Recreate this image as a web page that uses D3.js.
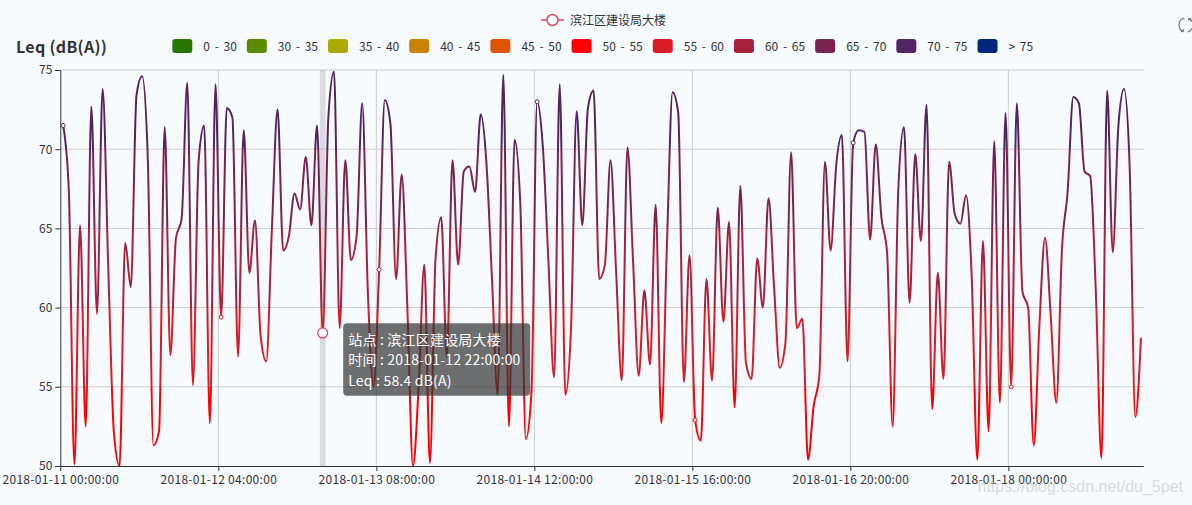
<!DOCTYPE html>
<html>
<head>
<meta charset="utf-8">
<script src="https://cdnjs.cloudflare.com/ajax/libs/d3/7.8.5/d3.min.js"></script>
<style>
  html, body { margin: 0; padding: 0; background: #f7faff; }
  svg { display: block; font-family: "Microsoft YaHei", "Noto Sans CJK SC", "Noto Sans", sans-serif; }
</style>
</head>
<body>
<svg id="chart" width="1192" height="505"></svg>
<script>
// hourly Leq readings, 2018-01-11 00:00 .. 2018-01-18 23:00
var stationName = "滨江区建设局大楼";
var startTime = "2018-01-11 00:00:00";
var leqValues = [
  71.5, 67.5, 50.1, 65.2, 52.5, 72.7, 59.6, 73.8, 62.5, 52.1,
  50.0, 64.1, 61.3, 73.4, 74.6, 69.5, 51.3, 52.2, 71.4, 57.0,
  64.4, 65.6, 74.2, 55.1, 69.2, 71.5, 52.7, 74.1, 59.4, 72.6,
  72.0, 56.9, 71.2, 62.2, 65.5, 58.2, 56.6, 65.0, 72.5, 63.6,
  64.5, 67.2, 66.2, 69.5, 65.2, 71.5, 58.4, 72.0, 74.9, 58.7,
  69.3, 63.0, 64.5, 72.9, 61.0, 55.0, 62.4, 73.1, 71.6, 61.8,
  68.4, 60.0, 50.0, 55.0, 62.7, 50.2, 63.1, 65.7, 56.9, 69.3,
  62.7, 68.6, 68.9, 67.3, 72.2, 69.2, 61.8, 54.5, 74.7, 52.5,
  70.6, 66.7, 51.7, 54.7, 73.0, 70.2, 62.9, 55.6, 74.1, 54.5,
  58.7, 72.4, 65.2, 72.6, 73.7, 61.8, 62.7, 69.3, 62.2, 55.4,
  70.1, 62.9, 55.7, 61.1, 56.4, 66.5, 52.7, 64.0, 73.6, 72.3,
  55.3, 63.3, 52.9, 51.6, 61.8, 55.4, 66.3, 59.1, 65.4, 53.7,
  67.7, 56.5, 55.5, 63.1, 60.0, 66.9, 61.2, 56.2, 57.8, 69.8,
  58.7, 59.3, 50.4, 53.8, 55.7, 69.2, 63.6, 69.0, 70.9, 56.6,
  70.4, 71.2, 71.1, 64.3, 70.3, 65.7, 63.5, 52.5, 67.5, 71.4,
  60.3, 69.7, 64.2, 72.8, 53.6, 62.2, 55.5, 69.2, 65.9, 65.3,
  67.1, 62.0, 50.4, 64.2, 52.2, 70.5, 54.0, 72.3, 55.0, 72.9,
  61.0, 60.0, 51.3, 58.9, 64.4, 59.5, 54.0, 63.7, 67.3, 73.3,
  72.9, 68.6, 68.3, 61.0, 50.5, 73.7, 63.5, 71.5, 73.8, 68.8,
  53.1, 58.1
];
var xTickLabels = [
  "2018-01-11 00:00:00", "2018-01-12 04:00:00", "2018-01-13 08:00:00",
  "2018-01-14 12:00:00", "2018-01-15 16:00:00", "2018-01-16 20:00:00",
  "2018-01-18 00:00:00"
];
var xDomain = ["2018-01-11 00:00:00", "2018-01-19 00:00:00"];
var yTicks = [50, 55, 60, 65, 70, 75];
var pieceLabels = ["0 - 30", "30 - 35", "35 - 40", "40 - 45", "45 - 50", "50 - 55",
                   "55 - 60", "60 - 65", "65 - 70", "70 - 75", "> 75"];
var pieceBounds = [0, 30, 35, 40, 45, 50, 55, 60, 65, 70, 75, 200];
var pieceColors = ["#267600", "#5b8c00", "#aaaa00", "#c88400", "#e05300", "#ff0000",
                   "#d81c24", "#a8213a", "#7b2350", "#512560", "#00287a"];
var hoverIndex = 46;     // tooltip shown at 2018-01-12 22:00
var symbolEvery = 28;    // small symbols drawn on every 28th point

var parse = d3.timeParse("%Y-%m-%d %H:%M:%S");
var fmt = d3.timeFormat("%Y-%m-%d %H:%M:%S");
var t0 = parse(startTime);
var data = leqValues.map(function(v, i) { return {t: d3.timeHour.offset(t0, i), v: v}; });

var svg = d3.select("#chart");
var margin = {left: 60.3, right: 1143.8, top: 70, bottom: 466};

var x = d3.scaleTime().domain(xDomain.map(parse)).range([margin.left, margin.right]);
var y = d3.scaleLinear().domain([50, 75]).range([margin.bottom, margin.top]);
// points sit at the middle of their hour on this axis
function px(d) { return x(d3.timeMinute.offset(d.t, 30)); }

function pieceColor(v) {
  for (var i = 0; i < pieceColors.length; i++) {
    if (v >= pieceBounds[i] && v < pieceBounds[i + 1]) return pieceColors[i];
  }
  return pieceColors[pieceColors.length - 1];
}

// gradient following the visual map pieces
var defs = svg.append("defs");
var grad = defs.append("linearGradient")
    .attr("id", "leqGrad")
    .attr("gradientUnits", "userSpaceOnUse")
    .attr("x1", 0).attr("x2", 0)
    .attr("y1", y(50)).attr("y2", y(75));
[5, 6, 7, 8, 9].forEach(function(i) {
  var lo = (pieceBounds[i] - 50) / 25, hi = (Math.min(pieceBounds[i + 1], 75) - 50) / 25;
  grad.append("stop").attr("offset", lo).attr("stop-color", pieceColors[i]);
  grad.append("stop").attr("offset", hi).attr("stop-color", pieceColors[i]);
});

defs.append("clipPath").attr("id", "clip")
  .append("rect")
    .attr("x", margin.left).attr("y", margin.top - 3)
    .attr("width", margin.right - margin.left).attr("height", margin.bottom - margin.top + 3);

// grid
var xTicks = xTickLabels.map(parse);
svg.append("g").selectAll("line.hg")
    .data(yTicks.slice(1))
  .enter().append("line")
    .attr("x1", margin.left).attr("x2", margin.right)
    .attr("y1", function(d) { return y(d); }).attr("y2", function(d) { return y(d); })
    .attr("stroke", "#cccccc").attr("stroke-width", 1);
svg.append("g").selectAll("line.vg")
    .data(xTicks.slice(1))
  .enter().append("line")
    .attr("x1", function(d) { return x(d); }).attr("x2", function(d) { return x(d); })
    .attr("y1", margin.top).attr("y2", margin.bottom)
    .attr("stroke", "#cccccc").attr("stroke-width", 1);

// axis pointer shadow
var hd = data[hoverIndex];
var band = x(d3.timeHour.offset(t0, 1)) - x(t0);
svg.append("rect")
    .attr("x", px(hd) - band / 2).attr("y", margin.top)
    .attr("width", band).attr("height", margin.bottom - margin.top)
    .attr("fill", "rgba(150,150,150,0.3)");

// the line
var line = d3.line()
    .x(px)
    .y(function(d) { return y(d.v); })
    .curve(d3.curveMonotoneX);

svg.append("path")
    .datum(data)
    .attr("clip-path", "url(#clip)")
    .attr("d", line)
    .attr("fill", "none")
    .attr("stroke", "url(#leqGrad)")
    .attr("stroke-width", 2)
    .attr("stroke-linejoin", "round");

// sampled symbols
svg.append("g").selectAll("circle")
    .data(data.filter(function(d, i) { return i % symbolEvery === 0; }))
  .enter().append("circle")
    .attr("cx", px).attr("cy", function(d) { return y(d.v); })
    .attr("r", 2)
    .attr("fill", "#fff")
    .attr("stroke", function(d) { return pieceColor(d.v); })
    .attr("stroke-width", 1);

// axes
var yAxis = svg.append("g")
    .attr("transform", "translate(" + margin.left + ",0)")
    .call(d3.axisLeft(y).tickValues(yTicks).tickSize(5).tickPadding(3));
var xAxis = svg.append("g")
    .attr("transform", "translate(0," + margin.bottom + ")")
    .call(d3.axisBottom(x).tickValues(xTicks).tickSize(5).tickPadding(4).tickFormat(fmt));
[yAxis, xAxis].forEach(function(g) {
  g.select(".domain").attr("stroke", "#333");
  g.selectAll(".tick line").attr("stroke", "#333");
  g.selectAll(".tick text").attr("fill", "#333").style("font-size", "12px")
    .style("font-family", "\"Microsoft YaHei\", \"Noto Sans CJK SC\", sans-serif");
});
xAxis.selectAll(".tick text").style("letter-spacing", "0.3px");
xAxis.select(".domain").attr("d", "M" + margin.left + ",0.5H" + margin.right);

// hover symbol
svg.append("circle")
    .attr("cx", px(hd)).attr("cy", y(hd.v))
    .attr("r", 5)
    .attr("fill", "#fff")
    .attr("stroke", "#e8414f")
    .attr("stroke-width", 1.2);

// y title
svg.append("text")
    .attr("x", 16).attr("y", 53)
    .attr("fill", "#333")
    .style("font-size", "16px").style("font-weight", "bold")
    .style("letter-spacing", "0.3px")
    .text("Leq (dB(A))");

// series legend
var lg = svg.append("g").attr("transform", "translate(541,20)");
lg.append("line").attr("x1", 0).attr("x2", 23).attr("y1", 0).attr("y2", 0)
    .attr("stroke", "#e0485c").attr("stroke-width", 1.5);
lg.append("circle").attr("cx", 11.5).attr("cy", 0).attr("r", 5.5)
    .attr("fill", "#fff").attr("stroke", "#e0485c").attr("stroke-width", 1.5);
lg.append("text").attr("x", 29).attr("y", 4.5)
    .attr("fill", "#333").style("font-size", "12px").text(stationName);

// visual map pieces
var vm = svg.append("g").attr("transform", "translate(0,39)");
var cx = 172.3;
pieceLabels.forEach(function(lab, i) {
  vm.append("rect")
      .attr("x", cx).attr("y", 0).attr("width", 20).attr("height", 14)
      .attr("rx", 3).attr("fill", pieceColors[i]);
  var t = vm.append("text")
      .attr("x", cx + 31).attr("y", 11.5)
      .attr("fill", "#333").style("font-size", "12px")
      .style("word-spacing", "2px")
      .text(lab);
  cx = cx + 31 + t.node().getComputedTextLength() + 10;
});

// tooltip
var tip = svg.append("g").attr("transform", "translate(" + (px(hd) + 20.5) + ",323.3)");
tip.append("rect")
    .attr("width", 187).attr("height", 72.4).attr("rx", 4)
    .attr("fill", "rgba(50,50,50,0.7)");
var tipLines = [
  "站点 : " + stationName,
  "时间 : " + fmt(hd.t),
  "Leq : " + hd.v.toFixed(1) + " dB(A)"
];
tip.selectAll("text")
    .data(tipLines)
  .enter().append("text")
    .attr("x", 5).attr("y", function(d, i) { return 21.5 + i * 20.5; })
    .attr("fill", "#fff").style("font-size", "14px")
    .style("letter-spacing", "0.2px")
    .text(function(d) { return d; });

// restore icon (toolbox)
var ic = svg.append("g").attr("transform", "translate(1186,25)")
    .attr("fill", "none").attr("stroke", "#777").attr("stroke-width", 1.2);
ic.append("path").attr("d", d3.arc()({innerRadius: 7, outerRadius: 7, startAngle: 0.3, endAngle: 2.9}));
ic.append("path").attr("d", d3.arc()({innerRadius: 7, outerRadius: 7, startAngle: 3.45, endAngle: 6.05}));
ic.append("path").attr("d", "M5,-7 L2,-4.5 M-5,7 L-2,4.5");

// watermark
svg.append("text")
    .attr("x", 1183).attr("y", 492)
    .attr("text-anchor", "end")
    .attr("fill", "rgba(190,190,190,0.55)")
    .style("font-size", "16px")
    .style("font-family", "Arial, \"Liberation Sans\", sans-serif")
    .text("https://blog.csdn.net/du_5pet");
</script>
</body>
</html>
